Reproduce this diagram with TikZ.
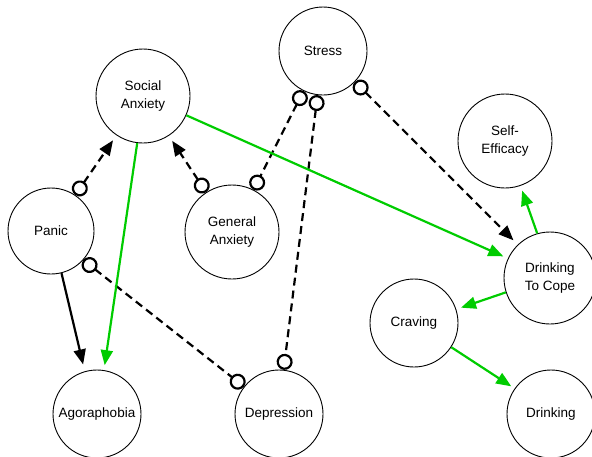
\documentclass[tikz,border=0pt]{standalone}
\usepackage{fontspec}
\setmainfont{Liberation Sans}
\usetikzlibrary{arrows.meta}
\definecolor{grn}{RGB}{0,204,0}
\tikzset{
  ocirc/.tip={Circle[open,length=16pt,width=16pt,line width=2.2pt]},
  btri/.tip={Triangle[length=15pt,width=12pt]},
  st/.style={circle, draw, line width=0.9pt, inner sep=0pt, align=center,
    font=\fontsize{13.5}{17.5}\selectfont},
  big/.style={st, minimum size=94pt},
  small/.style={st, minimum size=88pt},
  dsh/.style={line width=2.2pt, dash pattern=on 8pt off 5pt},
  sol/.style={line width=2.2pt},
  cb/.style={ocirc-btri, shorten >=6pt},
  cc/.style={ocirc-ocirc},
  tb/.style={-btri},
  gr/.style={line width=2.2pt, draw=grn, fill=grn, -btri, shorten >=5pt}
}
\begin{document}
\begin{tikzpicture}[x=1pt,y=-1pt]
\useasboundingbox (0,0) rectangle (592,456);
\node[big] (sa) at (143,96) {Social\\Anxiety};
\node[small] (stress) at (323,51) {Stress};
\node[big] (se) at (505,141) {Self-\\Efficacy};
\node[st, minimum size=86pt] (panic) at (51,231) {Panic};
\node[big] (ga) at (232,232) {General\\Anxiety};
\node[small] (ago) at (97,414) {Agoraphobia};
\node[small] (dep) at (279,414) {Depression};
\node[small] (crav) at (414,323) {Craving};
\node[st, minimum size=92pt] (dtc) at (550,278) {Drinking\\To Cope};
\node[small] (drink) at (551,414) {Drinking};

\draw[dsh, cb] (panic.56) -- (sa.236);
\draw[dsh, cb] (ga.123) -- (sa.303);
\draw[dsh, cc] (stress.244) -- (ga.63);
\draw[dsh, cc] (stress.263) -- (dep.84);
\draw[dsh, cb] (stress.316) -- (dtc.134);
\draw[dsh, cc] (panic.318) -- (dep.142);
\draw[sol, tb, shorten >=7pt] (panic.284) -- (ago.106);
\draw[gr] (sa.263) -- (ago.81);
\draw[gr] (sa.336) -- (dtc.155);
\draw[gr] (dtc.106) -- (se.289);
\draw[gr] (dtc.198) -- (crav.18);
\draw[gr, shorten >=4pt] (crav.327) -- (drink.145);
\end{tikzpicture}
\end{document}
